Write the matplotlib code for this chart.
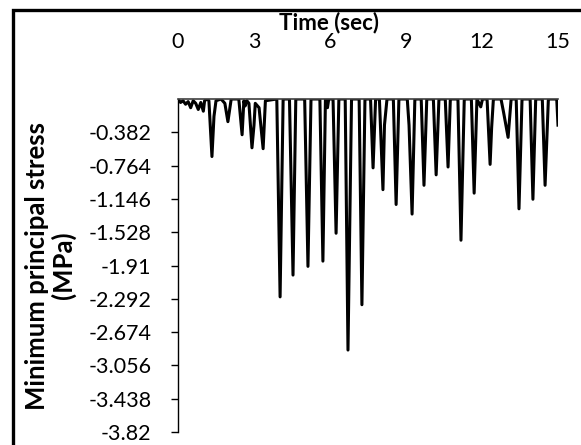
import matplotlib
matplotlib.use("Agg")
import matplotlib.pyplot as plt
from matplotlib.patches import Rectangle

# time (sec) and minimum principal stress (MPa)
time_s = [0.0, 0.1, 0.2, 0.3, 0.4, 0.5, 0.6, 0.7, 0.8, 0.9, 1.0, 1.05, 1.15,
          1.22, 1.34, 1.42, 1.5, 1.7, 1.85, 1.97, 2.05, 2.1, 2.4, 2.53, 2.6,
          2.65, 2.72, 2.8, 2.92, 3.0, 3.05, 3.2, 3.36, 3.45, 3.9, 4.03, 4.15,
          4.4, 4.54, 4.65, 5.0, 5.13, 5.25, 5.6, 5.72, 5.82, 5.9, 5.95, 6.12,
          6.24, 6.35, 6.6, 6.71, 6.85, 7.15, 7.26, 7.38, 7.6, 7.7, 7.8, 7.95,
          8.09, 8.15, 8.25, 8.5, 8.61, 8.72, 9.05, 9.12, 9.24, 9.35, 9.6, 9.71,
          9.82, 10.08, 10.19, 10.3, 10.55, 10.66, 10.75, 11.05, 11.17, 11.3,
          11.58, 11.69, 11.8, 11.95, 12.02, 12.2, 12.32, 12.38, 12.45, 12.75,
          12.85, 13.03, 13.15, 13.35, 13.46, 13.58, 13.9, 14.01, 14.12, 14.38,
          14.49, 14.62, 14.95, 15.0]
stress = [0.0, -0.04, -0.02, -0.06, -0.03, -0.1, -0.02, -0.05, -0.12, -0.04,
          -0.14, -0.02, 0.0, -0.02, -0.66, -0.2, -0.02, 0.0, -0.05, -0.26,
          -0.1, 0.0, 0.0, -0.41, -0.02, -0.08, -0.02, -0.05, -0.56, -0.3,
          -0.05, -0.1, -0.57, -0.02, 0.0, -2.27, 0.0, 0.0, -2.02, 0.0, 0.0,
          -1.92, 0.0, 0.0, -1.86, 0.0, -0.1, 0.0, 0.0, -1.54, 0.0, 0.0, -2.88,
          0.0, 0.0, -2.36, 0.0, 0.0, -0.79, 0.0, 0.0, -1.04, -0.3, 0.0, 0.0,
          -1.21, 0.0, 0.0, -0.3, -1.32, 0.0, 0.0, -0.99, 0.0, 0.0, -0.87, 0.0,
          0.0, -0.78, 0.0, 0.0, -1.62, 0.0, 0.0, -1.08, 0.0, -0.09, 0.0, 0.0,
          -0.75, -0.33, 0.0, 0.0, -0.15, -0.44, 0.0, 0.0, -1.26, 0.0, 0.0,
          -1.15, 0.0, 0.0, -0.99, 0.0, 0.0, -0.3]

x_ticks = [0, 3, 6, 9, 12, 15]
y_ticks = [-0.382, -0.764, -1.146, -1.528, -1.91, -2.292, -2.674, -3.056,
           -3.438, -3.82]
y_labels = ["-0.382", "-0.764", "-1.146", "-1.528", "-1.91", "-2.292",
            "-2.674", "-3.056", "-3.438", "-3.82"]

plt.rcParams['font.family'] = ['Lato', 'DejaVu Sans']

fig = plt.figure(figsize=(5.81, 4.45), dpi=100)
ax = fig.add_axes([178/581, 1-432/445, 380/581, 333/445])

ax.plot(time_s, stress, color='black', lw=2.2, solid_joinstyle='round')

ax.set_xlim(0, 15)
ax.set_ylim(-3.82, 0)
ax.xaxis.tick_top()
ax.xaxis.set_label_position('top')
ax.set_xticks(x_ticks)
ax.set_xticklabels([str(v) for v in x_ticks])
ax.tick_params(axis='x', length=0, labelsize=15.5, pad=34)
ax.set_yticks(y_ticks)
ax.set_yticklabels(y_labels)
ax.tick_params(axis='y', length=5, width=1, labelsize=15.5, pad=14)

ax.spines['right'].set_visible(False)
ax.spines['bottom'].set_visible(False)
ax.spines['top'].set_color('#404040')
ax.spines['top'].set_linewidth(1.2)
ax.spines['left'].set_linewidth(1)

ax.set_xlabel('Time (sec)', fontsize=16, fontweight='bold')
ax.xaxis.set_label_coords(0.397, 1.21)
ax.xaxis.label.set_verticalalignment('baseline')
ax.set_ylabel('Minimum principal stress\n(MPa)', fontsize=18.5,
              fontweight='bold', linespacing=1.1)
ax.yaxis.set_label_coords(-0.336, 0.5)
ax.yaxis.label.set_verticalalignment('center')

# outer frame of the chart area
fig.patches.append(Rectangle((12.5/581, -0.2), 1.2, 1.2 - 10/445,
                             transform=fig.transFigure, fill=False,
                             edgecolor='black', lw=2.4))

fig.savefig("out.png", dpi=100)
